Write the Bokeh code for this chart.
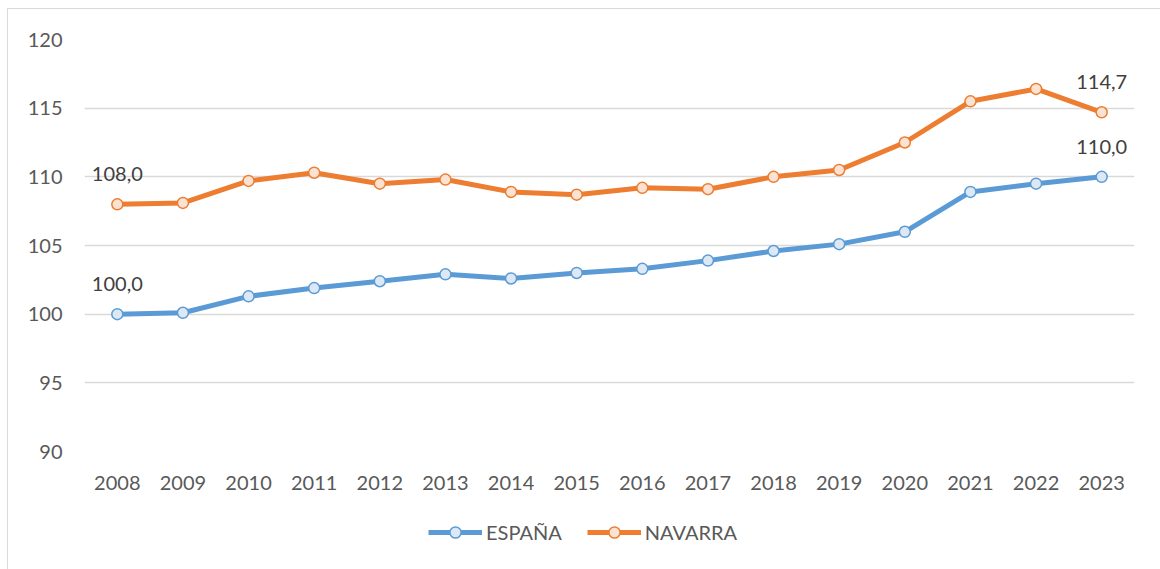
from bokeh.plotting import figure
from bokeh.layouts import column
from bokeh.models import ColumnDataSource, FixedTicker, Legend, LegendItem, Range1d
from bokeh.core.properties import value
from bokeh.embed import file_html
from bokeh.resources import INLINE

years = ["2008", "2009", "2010", "2011", "2012", "2013", "2014", "2015",
         "2016", "2017", "2018", "2019", "2020", "2021", "2022", "2023"]
espana = [100.0, 100.1, 101.3, 101.9, 102.4, 102.9, 102.6, 103.0,
          103.3, 103.9, 104.6, 105.1, 106.0, 108.9, 109.5, 110.0]
navarra = [108.0, 108.1, 109.7, 110.3, 109.5, 109.8, 108.9, 108.7,
           109.2, 109.1, 110.0, 110.5, 112.5, 115.5, 116.4, 114.7]
series_names = ["ESPAÑA", "NAVARRA"]
y_ticks = [90, 95, 100, 105, 110, 115, 120]

FONT = "Lato"
BLUE, BLUE_FILL = "#5b9bd5", "#dde8f5"
ORANGE, ORANGE_FILL = "#ed7d31", "#fbe3d3"

p = figure(x_range=years, y_range=Range1d(90, 120),
           width=1152, height=495,
           min_border_left=76, min_border_right=26, min_border_top=30, min_border_bottom=53,
           output_backend="svg", toolbar_location=None)
p.outline_line_color = None
p.background_fill_color = "white"
p.border_fill_color = "white"

src = ColumnDataSource(dict(x=years, esp=espana, nav=navarra))


def draw_series(fig):
    a = fig.line("x", "esp", source=src, line_color=BLUE, line_width=5)
    b = fig.scatter("x", "esp", source=src, marker="circle", size=11,
                    fill_color=BLUE_FILL, line_color=BLUE, line_width=1.5)
    c = fig.line("x", "nav", source=src, line_color=ORANGE, line_width=5)
    d = fig.scatter("x", "nav", source=src, marker="circle", size=11,
                    fill_color=ORANGE_FILL, line_color=ORANGE, line_width=1.5)
    return a, b, c, d


draw_series(p)


def fmt(v):
    return f"{v:.1f}".replace(".", ",")


lab_x = [years[0], years[0], years[-1], years[-1]]
lab_y = [espana[0], navarra[0], espana[-1], navarra[-1]]
lab_src = ColumnDataSource(dict(x=lab_x, y=lab_y, t=[fmt(v) for v in lab_y]))
p.text("x", "y", text="t", source=lab_src, y_offset=-30,
       text_align="center", text_baseline="middle",
       text_font=value(FONT), text_font_size="20px", text_color="#404040")

# axes
p.yaxis.ticker = FixedTicker(ticks=y_ticks)
for ax in (p.xaxis[0], p.yaxis[0]):
    ax.axis_line_color = None
    ax.major_tick_line_color = None
    ax.minor_tick_line_color = None
    ax.major_tick_out = 0
    ax.minor_tick_out = 0
    ax.major_label_text_font = FONT
    ax.major_label_text_font_size = "20px"
    ax.major_label_text_color = "#595959"
p.yaxis.major_label_standoff = 22
p.xaxis.major_label_standoff = 24

p.xgrid.grid_line_color = None
p.ygrid.grid_line_color = "#d9d9d9"
p.ygrid.grid_line_width = 1.5

# legend strip below the chart (its series lie outside its visible range)
leg = figure(x_range=years, y_range=Range1d(0, 1), width=1152, height=65,
             min_border=0, output_backend="svg", toolbar_location=None)
leg.axis.visible = False
leg.grid.visible = False
leg.outline_line_color = None
leg.background_fill_color = "white"
leg.border_fill_color = "white"
r1, s1, r2, s2 = draw_series(leg)

legend = Legend(items=[LegendItem(label=series_names[0], renderers=[r1, s1]),
                       LegendItem(label=series_names[1], renderers=[r2, s2])],
                orientation="horizontal", location=(344, 23),
                label_text_font=FONT, label_text_font_size="20px",
                label_text_color="#595959", glyph_width=54, glyph_height=28,
                label_standoff=4, spacing=25, border_line_color=None,
                background_fill_alpha=0, margin=0, padding=6)
leg.add_layout(legend, "center")

layout = column(p, leg, spacing=0,
                styles={"margin-left": "7px", "margin-top": "8px",
                        "border-top": "1px solid #d9d9d9", "border-left": "1px solid #d9d9d9"})

open("out.html", "w").write(file_html(layout, INLINE))
